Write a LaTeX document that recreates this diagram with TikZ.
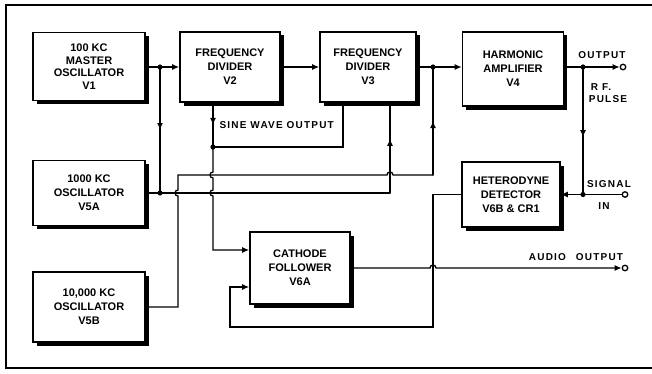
\documentclass[tikz,border=0pt]{standalone}
\usepackage{fontspec}
\setmainfont{Liberation Sans}
\newfontfamily\lblfont[LetterSpace=12]{Liberation Sans}
\usetikzlibrary{arrows.meta,shadows,decorations.markings}

\begin{document}
\begin{tikzpicture}[x=1pt,y=1pt,line cap=round,
  block/.style={draw,line width=1.6pt,fill=white,
    drop shadow={shadow xshift=3.5pt,shadow yshift=-3.5pt,fill=black,opacity=1},
    align=center,inner sep=0pt,font=\bfseries\fontsize{11}{14}\selectfont},
  wire/.style={line width=1.3pt},
  tip/.style={-{Latex[length=7pt,width=6pt]}},
  midarrow/.style={postaction={decorate},decoration={markings,
    mark=at position #1 with {\arrow{Latex[length=7pt,width=6pt]}}}},
  midarrow/.default=0.5,
  term/.style={circle,draw,fill=white,line width=1.3pt,inner sep=0pt,minimum size=5.5pt},
  lbl/.style={font=\lblfont\bfseries\fontsize{10}{11}\selectfont}]
  \useasboundingbox (0,0) rectangle (652,373);
  \draw[line width=2.5pt,line cap=butt] (652,368) -- (6,368) -- (6,5) -- (652,5);

  \node[block,minimum width=112,minimum height=68,
    font=\bfseries\fontsize{11}{12.5}\selectfont] (v1) at (89,306.5) {100 KC\\MASTER\\OSCILLATOR\\V1};
  \node[block,minimum width=100,minimum height=70] (v2) at (230,306) {FREQUENCY\\DIVIDER\\V2};
  \node[block,minimum width=96,minimum height=70] (v3) at (368,306) {FREQUENCY\\DIVIDER\\V3};
  \node[block,minimum width=101,minimum height=74] (v4) at (513,304) {HARMONIC\\AMPLIFIER\\V4};
  \node[block,minimum width=112,minimum height=65] (v5a) at (89,180) {1000 KC\\OSCILLATOR\\V5A};
  \node[block,minimum width=112,minimum height=70] (v5b) at (89,66) {10,000 KC\\OSCILLATOR\\V5B};
  \node[block,minimum width=100,minimum height=72] (v6a) at (300,105) {CATHODE\\FOLLOWER\\V6A};
  \node[block,minimum width=98,minimum height=65] (det) at (511,178.5) {HETERODYNE\\DETECTOR\\V6B \& CR1};

  \node[term] (tout) at (623,306) {};
  \node[term] (tsig) at (625,178.5) {};
  \node[term] (taud) at (625,105) {};

  \coordinate (j1) at (160,306);
  \coordinate (j3) at (433,306);
  \coordinate (j4) at (583,306);
  \coordinate (j5) at (160,180);
  \coordinate (j6) at (213,226);
  \coordinate (j7) at (583,178.5);
  \coordinate (k1) at (390,180);
  \coordinate (k2) at (178,66);
  \coordinate (k3) at (433,198);
  \coordinate (k4) at (343,226);
  \coordinate (k5) at (213,123);
  \coordinate (k6) at (433,178.5);
  \coordinate (k7) at (433,46);
  \coordinate (k8) at (230,46);
  \coordinate (k9) at (230,86);

  \draw[wire,tip] (v1.east |- j1) -- (j1) -- (v2.west |- j1);
  \draw[wire,tip] (v2.east |- j1) -- (v3.west |- j1);
  \draw[wire,tip] (v3.east |- j3) -- (j3) -- (v4.west |- j3);
  \draw[wire,tip] (v4.east |- j4) -- (j4) -- (tout);
  \draw[wire,midarrow] (j1) -- (j5);
  \draw[wire] (v5a.east) -- (j5) -- (k1);
  \draw[wire,midarrow=0.6] (k1) -- (k1 |- v3.south);
  \draw[wire] (v5b.east) -- (k2) -- (178,177) arc[start angle=270,end angle=90,radius=3]
    -- (178,198) -- (387,198) arc[start angle=180,end angle=0,radius=3] -- (k3);
  \draw[wire,midarrow] (k3) -- (j3);
  \draw[wire,midarrow] (v2.south -| j6) -- (j6);
  \draw[wire] (j6) -- (k4) -- (k4 |- v3.south);
  \draw[wire,tip] (j6) -- (213,201) arc[start angle=90,end angle=270,radius=3]
    -- (213,183) arc[start angle=90,end angle=270,radius=3] -- (k5) -- (v6a.west |- k5);
  \draw[wire,tip] (det.west) -- (k6) -- (k7) -- (k8) -- (k9) -- (v6a.west |- k9);
  \draw[wire,tip] (v6a.east) -- (430,105) arc[start angle=180,end angle=0,radius=3] -- (taud);
  \draw[wire,midarrow=0.55] (j4) -- (j7);
  \draw[wire,tip] (tsig) -- (j7) -- (det.east);
  \foreach \j in {j1,j3,j4,j5,j6,j7}
    \fill (\j) circle (2.6);

  \node[lbl,anchor=west] (sine) at (216,248) {SINE WAVE OUTPUT};
  \node[lbl] (outl) at (602,318) {OUTPUT};
  \node[lbl] (rf) at (601,286) {R F.};
  \node[lbl] (pulse) at (608,274) {PULSE};
  \node[lbl] (sig) at (609,189) {SIGNAL};
  \node[lbl] (in) at (604,167) {IN};
  \node[lbl] (aud) at (576,116) {AUDIO\quad OUTPUT};
\end{tikzpicture}
\end{document}
